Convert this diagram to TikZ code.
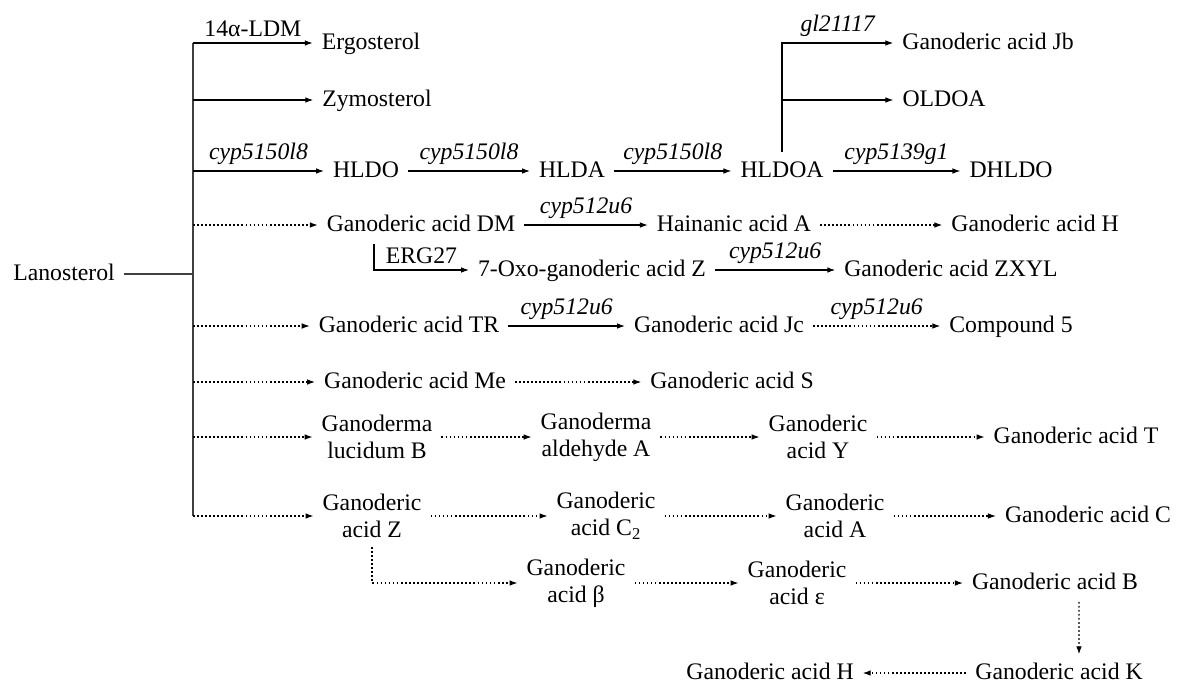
\documentclass[tikz,border=0pt]{standalone}
\usepackage{fontspec}
\setmainfont{Liberation Serif}
\usetikzlibrary{arrows.meta}

\begin{document}
\begin{tikzpicture}[x=0.02cm, y=-0.02cm,
    every node/.style={font=\fontsize{13.5}{15.5}\selectfont, inner sep=0pt},
    cmpd/.style={inner sep=5pt, text height=9pt, text depth=2pt},
    cmpd2/.style={inner sep=5pt, align=center},
    lab/.style={inner sep=3.5pt},
    enz/.style={lab, font=\fontsize{13.5}{15.5}\selectfont\itshape},
    arr/.style={-{Latex[length=4.5pt,width=3.2pt]}, line width=0.6pt},
    darr/.style={arr, dash pattern=on 1pt off 1.3pt}]
        \useasboundingbox (0,0) rectangle (1185,683);
        % Trunk
        \coordinate (top) at (193,43);
        \coordinate (bot) at (193,516);
        \node[cmpd] (lan) at (64,274) {Lanosterol};
        \draw[line width=0.7pt, black!75] (lan) -- (lan -| top);
        \draw[line width=0.7pt, black!75] (top) -- (bot);
        % Compounds
        \node[cmpd] (ergo) at (371,43) {Ergosterol};
        \node[cmpd] (zymo) at (377,100) {Zymosterol};
        \node[cmpd] (hldo) at (366,171) {HLDO};
        \node[cmpd] (hlda) at (572,171) {HLDA};
        \node[cmpd] (hldoa) at (782,171) {HLDOA};
        \node[cmpd] (dhldo) at (1011,171) {DHLDO};
        \node[cmpd] (gajb) at (988,43) {Ganoderic acid Jb};
        \node[cmpd] (oldoa) at (944,100) {OLDOA};
        \node[cmpd] (gadm) at (421,225) {Ganoderic acid DM};
        \node[cmpd] (hainan) at (734,225) {Hainanic acid A};
        \node[cmpd] (gah) at (1035,225) {Ganoderic acid H};
        \node[cmpd] (oxo) at (592,270) {7-Oxo-ganoderic acid Z};
        \node[cmpd] (zxyl) at (951,270) {Ganoderic acid ZXYL};
        \node[cmpd] (gatr) at (409,326) {Ganoderic acid TR};
        \node[cmpd] (gajc) at (719,326) {Ganoderic acid Jc};
        \node[cmpd] (comp) at (1011,326) {Compound 5};
        \node[cmpd] (game) at (415,382) {Ganoderic acid Me};
        \node[cmpd] (gas) at (732,382) {Ganoderic acid S};
        \node[cmpd2] (glb) at (377,437) {Ganoderma\\lucidum B};
        \node[cmpd2] (gald) at (596,437) {Ganoderma\\aldehyde A};
        \node[cmpd2] (gay) at (818,437) {Ganoderic\\acid Y};
        \node[cmpd] (gat) at (1076,437) {Ganoderic acid T};
        \node[cmpd2] (gaz) at (372,516) {Ganoderic\\acid Z};
        \node[cmpd2] (gac2) at (606,516) {Ganoderic\\acid C\textsubscript{2}};
        \node[cmpd2] (gaa) at (835,516) {Ganoderic\\acid A};
        \node[cmpd] (gac) at (1088,516) {Ganoderic acid C};
        \node[cmpd2] (gabeta) at (576,583) {Ganoderic\\acid β};
        \node[cmpd2] (gaeps) at (797,583) {Ganoderic\\acid ε};
        \node[cmpd] (gab) at (1055,583) {Ganoderic acid B};
        \node[cmpd] (gak) at (1059,673) {Ganoderic acid K};
        \node[cmpd] (gah2) at (770,673) {Ganoderic acid H};
        % Solid steps
        \draw[arr] (top) -- (ergo) node[midway, above, lab] {14α-LDM};
        \draw[arr] (zymo -| top) -- (zymo);
        \draw[arr] (hldo -| top) -- (hldo) node[midway, above, enz] {cyp5150l8};
        \draw[arr] (hldo) -- (hlda) node[midway, above, enz] {cyp5150l8};
        \draw[arr] (hlda) -- (hldoa) node[midway, above, enz] {cyp5150l8};
        \draw[arr] (hldoa) -- (dhldo) node[midway, above, enz] {cyp5139g1};
        \draw[arr] (hldoa.north) |- (gajb) node[pos=0.75, above, enz] {gl21117};
        \draw[arr] (hldoa.north |- oldoa) -- (oldoa);
        \draw[arr] (gadm) -- (hainan) node[midway, above, enz] {cyp512u6};
        \draw[arr] ([xshift=-0.94cm]gadm.south) |- (oxo) node[pos=0.75, above, lab] {ERG27};
        \draw[arr] (oxo) -- (zxyl) node[midway, above, enz] {cyp512u6};
        \draw[arr] (gatr) -- (gajc) node[midway, above, enz] {cyp512u6};
        % Dotted steps
        \draw[darr] (gadm -| top) -- (gadm);
        \draw[darr] (hainan) -- (gah);
        \draw[darr] (gatr -| top) -- (gatr);
        \draw[darr] (gajc) -- (comp) node[midway, above, enz] {cyp512u6};
        \draw[darr] (game -| top) -- (game);
        \draw[darr] (game) -- (gas);
        \draw[darr] (glb -| top) -- (glb);
        \draw[darr] (glb) -- (gald);
        \draw[darr] (gald) -- (gay);
        \draw[darr] (gay) -- (gat);
        \draw[darr] (bot) -- (gaz);
        \draw[darr] (gaz) -- (gac2);
        \draw[darr] (gac2) -- (gaa);
        \draw[darr] (gaa) -- (gac);
        \draw[darr] (gaz.south) |- (gabeta);
        \draw[darr] (gabeta) -- (gaeps);
        \draw[darr] (gaeps) -- (gab);
        \draw[darr] ([xshift=0.48cm]gab.south) -- ([xshift=0.4cm]gak.north);
        \draw[darr] (gak) -- (gah2);
    \end{tikzpicture}
\end{document}
